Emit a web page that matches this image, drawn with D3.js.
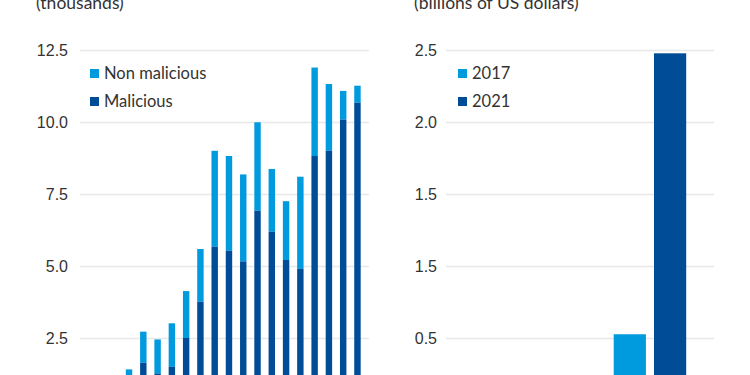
<!DOCTYPE html>
<html>
<head>
<meta charset="utf-8">
<script src="https://cdn.jsdelivr.net/npm/d3@7"></script>
<style>
  body { margin: 0; background: #fff; }
  svg { display: block; font-family: Lato, "Open Sans", sans-serif; }
  .tick text { fill: #333; font-size: 16px; }
</style>
</head>
<body>
<div id="container"></div>
<script>
/* CONSTANTS AND GLOBALS */
const width = 750;
const height = 375;

const lightBlue = "#009ade";
const darkBlue = "#004c97";

/* DATA */
// left panel: cyber incidents (thousands)
const years = ["2007", "2008", "2009", "2010", "2011", "2012", "2013", "2014", "2015",
  "2016", "2017", "2018", "2019", "2020", "2021", "2022", "2023"];
const totalIncidents = [1.41, 2.72, 2.45, 3.01, 4.13, 5.59, 9.0, 8.82, 8.18,
  9.99, 8.37, 7.25, 8.1, 11.89, 11.32, 11.08, 11.26];
const maliciousIncidents = [1.1, 1.64, 1.27, 1.5, 2.5, 3.76, 5.67, 5.53, 5.16,
  6.92, 6.19, 5.21, 4.9, 8.82, 9.0, 10.08, 10.67];
const leftTicks = [2.5, 5, 7.5, 10, 12.5];

// right panel: losses (billions of US dollars)
const lossYears = ["2017", "2021"];
const losses = [0.526, 2.477];
const rightTicks = [0.5, 1, 1.5, 2, 2.5];
const rightTickLabels = ["0.5", "1.5", "1.5", "2.0", "2.5"];

/* CREATE SVG ELEMENT */
const svg = d3.select("#container")
  .append("svg")
  .attr("width", width)
  .attr("height", height);

// ---------- LEFT PANEL ----------
const left = { x0: 80, x1: 369 };

const yL = d3.scaleLinear().domain([0, 12.5]).range([410, 50]);
const xL = d3.scaleBand()
  .domain(years)
  .range([121.9, 364.6])
  .paddingInner(0.55)
  .paddingOuter(0.275);

const gridL = svg.append("g")
  .attr("transform", "translate(" + left.x0 + ",0)")
  .call(d3.axisLeft(yL)
    .tickValues(leftTicks)
    .tickFormat(d3.format(".1f"))
    .tickSize(-(left.x1 - left.x0))
    .tickPadding(12));
gridL.select(".domain").remove();
gridL.selectAll(".tick line").attr("stroke", "#e8e8e8").attr("stroke-width", 1.5);

const stacked = years.map((yr, i) => ({
  year: yr, mal: maliciousIncidents[i], total: totalIncidents[i]
}));

// non malicious part sits on top of the malicious part
svg.append("g").selectAll("rect")
  .data(stacked)
  .join("rect")
  .attr("x", d => xL(d.year))
  .attr("width", xL.bandwidth())
  .attr("y", d => yL(d.total))
  .attr("height", d => yL(d.mal) - yL(d.total))
  .attr("fill", lightBlue);

svg.append("g").selectAll("rect")
  .data(stacked)
  .join("rect")
  .attr("x", d => xL(d.year))
  .attr("width", xL.bandwidth())
  .attr("y", d => yL(d.mal))
  .attr("height", d => yL(0) - yL(d.mal))
  .attr("fill", darkBlue);

svg.append("text")
  .attr("x", 36)
  .attr("y", 9)
  .attr("font-size", 17.5)
  .attr("fill", "#333")
  .text("(thousands)");

const legL = [["Non malicious", lightBlue], ["Malicious", darkBlue]];
legL.forEach((d, i) => {
  svg.append("rect")
    .attr("x", 90).attr("y", 69 + i * 28)
    .attr("width", 9).attr("height", 9)
    .attr("fill", d[1]);
  svg.append("text")
    .attr("x", 104).attr("y", 79 + i * 28)
    .attr("font-size", 16.5)
    .attr("fill", "#333")
    .text(d[0]);
});

// ---------- RIGHT PANEL ----------
const right = { x0: 446, x1: 714 };

const yR = d3.scaleLinear().domain([0, 2.5]).range([410, 50]);
const xR = d3.scaleBand()
  .domain(lossYears)
  .range([613.7, 686.2])
  .paddingInner(0.2);

const gridR = svg.append("g")
  .attr("transform", "translate(" + right.x0 + ",0)")
  .call(d3.axisLeft(yR)
    .tickValues(rightTicks)
    .tickFormat((d, i) => rightTickLabels[i])
    .tickSize(-(right.x1 - right.x0))
    .tickPadding(9));
gridR.select(".domain").remove();
gridR.selectAll(".tick line").attr("stroke", "#e8e8e8").attr("stroke-width", 1.5);

svg.append("g").selectAll("rect")
  .data(lossYears)
  .join("rect")
  .attr("x", d => xR(d))
  .attr("width", xR.bandwidth())
  .attr("y", (d, i) => yR(losses[i]))
  .attr("height", (d, i) => yR(0) - yR(losses[i]))
  .attr("fill", (d, i) => i === 0 ? lightBlue : darkBlue);

svg.append("text")
  .attr("x", 414)
  .attr("y", 9)
  .attr("font-size", 17.5)
  .attr("fill", "#333")
  .text("(billions of US dollars)");

lossYears.forEach((yr, i) => {
  svg.append("rect")
    .attr("x", 458).attr("y", 69 + i * 28)
    .attr("width", 9).attr("height", 9)
    .attr("fill", i === 0 ? lightBlue : darkBlue);
  svg.append("text")
    .attr("x", 472).attr("y", 79 + i * 28)
    .attr("font-size", 16.5)
    .attr("fill", "#333")
    .text(yr);
});
</script>
</body>
</html>
